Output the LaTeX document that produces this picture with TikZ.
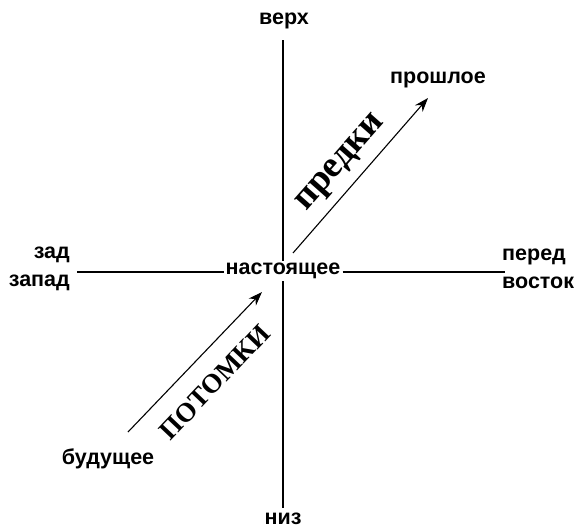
\documentclass[tikz,border=0pt]{standalone}
\usepackage{fontspec}
\setmainfont{Liberation Sans}
\newfontfamily\serifcyr{Liberation Serif}
\usetikzlibrary{arrows.meta}
\begin{document}
\begin{tikzpicture}[x=1pt,y=-1pt,
  lbl/.style={font=\fontsize{21.5}{28}\selectfont\bfseries, inner sep=2pt},
  axis/.style={line width=1.1pt},
  arr/.style={line width=1.1pt,-{Stealth[length=14pt,width=10pt]}},
  rot/.style={inner sep=0pt}]
\useasboundingbox (0,0) rectangle (584,530);
\node[lbl] (verkh) at (284,21) {верх};
\node[lbl, inner sep=0pt] (niz) at (283,519) {низ};
\node[lbl] (nast) at (283,271) {настоящее};
\node[lbl, align=right, anchor=east] (zad) at (72,269) {зад\\запад};
\node[lbl, align=left, anchor=west] (pered) at (500,269) {перед\\восток};
\node[lbl] (proshl) at (438,80) {прошлое};
\node[lbl] (bud) at (108,459) {будущее};
\coordinate (vt) at (283,40);
\coordinate (vb) at (283,508);
\coordinate (hl) at (77,272);
\coordinate (hr) at (505,272);
\draw[axis] (vt) -- (nast.north -| vt);
\draw[axis] (nast.south -| vb) -- (vb);
\draw[axis] (hl) -- (nast.west |- hl);
\draw[axis] (nast.east |- hr) -- (hr);
\coordinate (u1) at (293,253);
\coordinate (u2) at (428,98);
\coordinate (d1) at (128,432);
\coordinate (d2) at (262,292);
\draw[arr] (u1) -- (u2);
\draw[arr] (d1) -- (d2);
\node[rot, rotate=48.5, font=\serifcyr\bfseries\fontsize{37}{37}\selectfont] (predki) at (342,164) {предки};
\node[rot, rotate=46.5, font=\serifcyr\bfseries\fontsize{27}{27}\selectfont] (potomki) at (215,382) {ПОТОМКИ};
\end{tikzpicture}
\end{document}
